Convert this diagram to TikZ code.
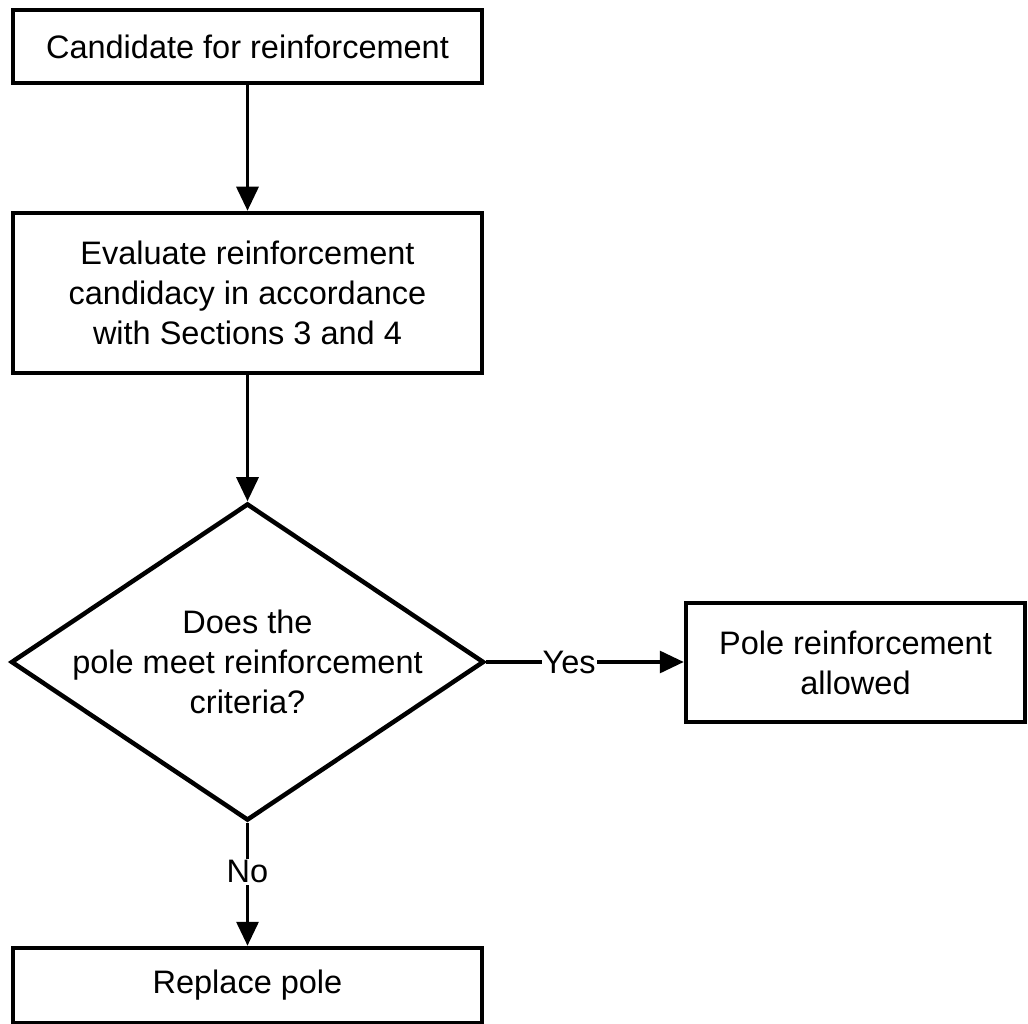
\documentclass[tikz,border=0pt]{standalone}
\usepackage{fontspec}
\setmainfont{Liberation Sans}
\usetikzlibrary{arrows.meta, shapes.geometric, positioning}
\tikzset{>={Triangle[length=24pt,width=22pt]}}

\begin{document}
\begin{tikzpicture}[x=1pt, y=-1pt, line width=3.5pt,
        font=\fontsize{32.5}{40}\selectfont,
        stepbox/.style={draw, rectangle, align=center, inner sep=0pt, line width=4.5pt},
        choice/.style={draw, diamond, inner sep=0pt, line width=4.5pt},
        flow/.style={->, line width=3.2pt}]
        \useasboundingbox (0,0) rectangle (1028,1024);

        \node[stepbox, minimum width=469pt, minimum height=73pt] (cand) at (247.5,46.5) {Candidate for reinforcement};
        \node[stepbox, minimum width=469pt, minimum height=160pt] (eval) at (247.5,293) {Evaluate reinforcement\\candidacy in accordance\\with Sections 3 and 4};
        \node[choice, minimum width=473pt, minimum height=317pt] (meet) at (247.5,662) {};
        \node[align=center] (meettext) at (meet) {Does the\\pole meet reinforcement\\criteria?};
        \node[stepbox, minimum width=339pt, minimum height=119pt] (allow) at (855.5,662.5) {Pole reinforcement\\allowed};
        \node[stepbox, minimum width=469pt, minimum height=75pt] (repl) at (247.5,985.5) {Replace pole};

        \draw[flow] (cand) -- (eval);
        \draw[flow] (eval) -- (meet);
        \draw[flow] (meet.east) -- node[pos=0.42, fill=white, inner sep=1pt] {Yes} (meet.east -| allow.west);
        \draw[flow] (meet) -- node[pos=0.4, fill=white, inner sep=2pt] {No} (repl);
\end{tikzpicture}
\end{document}
